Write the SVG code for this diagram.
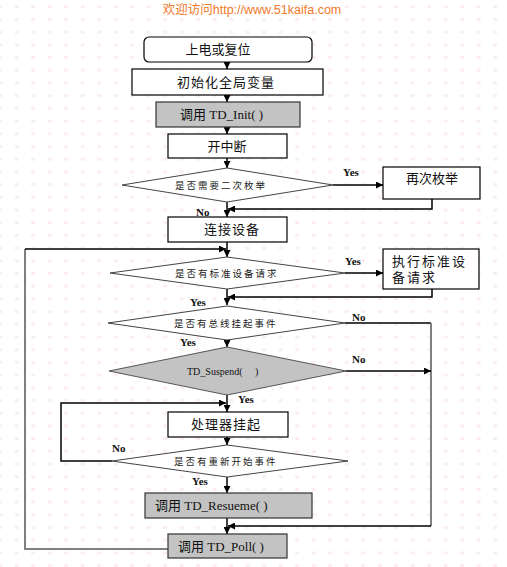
<svg xmlns="http://www.w3.org/2000/svg" width="507" height="567" viewBox="0 0 507 567">
<style>
.box{fill:#fff;stroke:#000;stroke-width:1.2}
.gbox{fill:#c3c3c3;stroke:#333;stroke-width:1.2}
.dia{fill:#fff;stroke:#444;stroke-width:1}
.gdia{fill:#c3c3c3;stroke:#555;stroke-width:1}
.t{font-family:"Liberation Sans","Noto Sans CJK SC",sans-serif;font-size:13px;fill:#111}
.tl{font-family:"Liberation Serif","Noto Sans CJK SC",serif;font-size:13px;fill:#111}
.dt{font-family:"Noto Sans CJK SC",sans-serif;font-size:9.5px;fill:#222;letter-spacing:2px}
.lb{font-family:"Liberation Serif",serif;font-size:11px;font-weight:bold;fill:#111}
.ln{fill:none;stroke:#000;stroke-width:1.5}
.lg{fill:none;stroke:#808080;stroke-width:2}
</style>
<defs>
<marker id="ah" viewBox="0 0 10 10" refX="10" refY="5" markerWidth="7" markerHeight="7" markerUnits="userSpaceOnUse" orient="auto">
<path d="M0,0 L10,5 L0,10 z" fill="#000"/>
</marker>
<pattern id="dots" x="14.7" y="5.3" width="16.5" height="12.7" patternUnits="userSpaceOnUse">
<rect x="0" y="0" width="4" height="3" fill="#fbedf4"/>
</pattern>
</defs>
<rect width="507" height="567" fill="#fff"/>
<rect width="507" height="567" fill="url(#dots)"/>
<text x="252" y="14" text-anchor="middle" font-family="Liberation Sans,Noto Sans CJK SC,sans-serif" font-size="12.5" fill="#f07a2a">欢迎访问http://www.51kaifa.com</text>

<g id="connectors">
<line class="ln" x1="227" y1="62" x2="227" y2="69" marker-end="url(#ah)"/>
<line class="ln" x1="227" y1="95" x2="227" y2="102" marker-end="url(#ah)"/>
<line class="ln" x1="227" y1="127" x2="227" y2="134" marker-end="url(#ah)"/>
<line class="ln" x1="227" y1="158" x2="227" y2="168" marker-end="url(#ah)"/>
<line class="ln" x1="333" y1="185" x2="383" y2="185" marker-end="url(#ah)"/>
<polyline class="ln" points="432,199 432,209 228,209" marker-end="url(#ah)"/>
<line class="ln" x1="227" y1="202" x2="227" y2="217" marker-end="url(#ah)"/>
<line class="ln" x1="227" y1="242" x2="227" y2="257" marker-end="url(#ah)"/>
<polyline class="lg" points="168,549 25,549 25,249"/>
<line class="ln" x1="25" y1="249" x2="226" y2="249" marker-end="url(#ah)"/>
<line class="ln" x1="345" y1="273" x2="383" y2="273" marker-end="url(#ah)"/>
<polyline class="ln" points="432,289 432,297 228,297" marker-end="url(#ah)"/>
<line class="ln" x1="227" y1="289" x2="227" y2="305" marker-end="url(#ah)"/>
<line class="ln" x1="345" y1="323" x2="431" y2="323"/>
<line class="lg" x1="431" y1="323" x2="431" y2="526"/>
<line class="ln" x1="431" y1="526" x2="228" y2="526" marker-end="url(#ah)"/>
<line class="ln" x1="227" y1="340" x2="227" y2="347" marker-end="url(#ah)"/>
<line class="ln" x1="346" y1="371" x2="431" y2="371" marker-end="url(#ah)"/>
<line class="ln" x1="227" y1="395" x2="227" y2="412" marker-end="url(#ah)"/>
<polyline class="ln" points="112,461 61,461 61,403 226,403" marker-end="url(#ah)"/>
<line class="ln" x1="227" y1="437" x2="227" y2="445" marker-end="url(#ah)"/>
<line class="ln" x1="227" y1="477" x2="227" y2="493" marker-end="url(#ah)"/>
<line class="ln" x1="227" y1="518" x2="227" y2="534" marker-end="url(#ah)"/>
<text class="lb" x="343" y="176">Yes</text>
<text class="lb" x="196" y="216">No</text>
<text class="lb" x="345" y="265">Yes</text>
<text class="lb" x="190" y="306">Yes</text>
<text class="lb" x="352" y="321">No</text>
<text class="lb" x="180" y="346">Yes</text>
<text class="lb" x="352" y="363">No</text>
<text class="lb" x="238" y="403">Yes</text>
<text class="lb" x="112" y="452">No</text>
<text class="lb" x="192" y="485">Yes</text>
</g>

<g id="n1"><rect class="box" x="144" y="37" width="168" height="25" rx="5"/><text class="t" x="218" y="54" text-anchor="middle">上电或复位</text></g>
<g id="n2"><rect class="box" x="132" y="69" width="191" height="26"/><text class="t" x="226" y="87" text-anchor="middle" letter-spacing="1">初始化全局变量</text></g>
<g id="n3"><rect class="gbox" x="156" y="102" width="144" height="25"/><text class="tl" x="180" y="119">调用 TD_Init( )</text></g>
<g id="n4"><rect class="box" x="168" y="134" width="119" height="24"/><text class="t" x="227" y="151" text-anchor="middle">开中断</text></g>
<g id="d1"><polygon class="dia" points="227,168 333,185 227,202 122,185"/><text class="dt" x="175" y="189">是否需要二次枚举</text></g>
<g id="n5"><rect class="box" x="383" y="167" width="97" height="32"/><text class="t" x="406" y="183">再次枚举</text></g>
<g id="n6"><rect class="box" x="168" y="217" width="119" height="25"/><text class="t" x="232" y="234" text-anchor="middle" letter-spacing="1">连接设备</text></g>
<g id="d2"><polygon class="dia" points="227,257 345,273 227,289 110,273"/><text class="dt" x="175" y="277">是否有标准设备请求</text></g>
<g id="n7"><rect class="box" x="383" y="249" width="96" height="40"/><text class="t" x="392" y="266" letter-spacing="2">执行标准设</text><text class="t" x="392" y="282" letter-spacing="2">备请求</text></g>
<g id="d3"><polygon class="dia" points="227,306 345,323 227,340 108,323"/><text class="dt" x="174" y="327">是否有总线挂起事件</text></g>
<g id="d4"><polygon class="gdia" points="227,347 346,371 227,395 109,371"/><text x="187" y="375" font-family="Liberation Serif,serif" font-size="10" fill="#111" xml:space="preserve">TD_Suspend(     )</text></g>
<g id="n8"><rect class="box" x="168" y="412" width="120" height="25"/><text class="t" x="226" y="429" text-anchor="middle" letter-spacing="1">处理器挂起</text></g>
<g id="d5"><polygon class="dia" points="227,445 348,461 227,477 112,461"/><text class="dt" x="174" y="465">是否有重新开始事件</text></g>
<g id="n9"><rect class="gbox" x="145" y="493" width="167" height="25"/><text class="tl" x="155" y="510">调用 TD_Resueme( )</text></g>
<g id="n10"><rect class="gbox" x="168" y="534" width="119" height="24"/><text class="tl" x="178" y="551">调用 TD_Poll( )</text></g>
</svg>
